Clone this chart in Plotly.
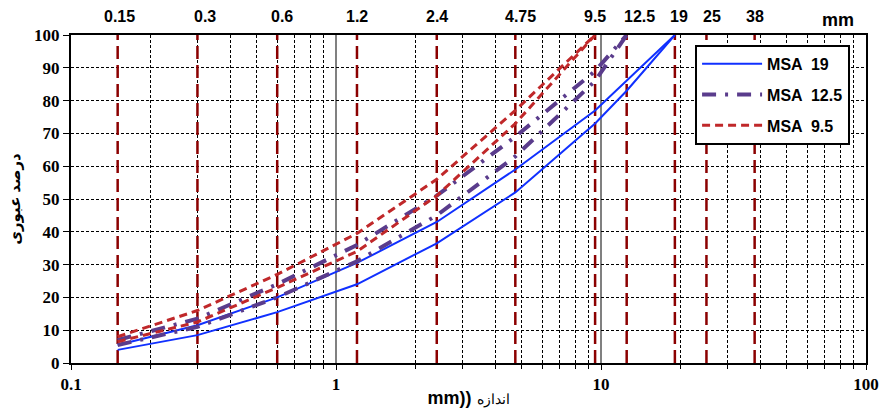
import math
import plotly.graph_objects as go

# ---------------- data ----------------
sieves = [0.15, 0.3, 0.6, 1.2, 2.4, 4.75, 9.5, 12.5, 19]

msa19_upper = [5.5, 11.5, 20, 30.5, 43, 59, 77, 86, 100]
msa19_lower = [4, 8.5, 15.5, 24, 36.5, 52, 73, 83, 100]

msa125_upper = [7, 13.5, 24, 36, 51, 69, 89, 100]
msa125_lower = [5.5, 11, 20, 31, 45, 63, 86, 100]

msa95_upper = [8, 16, 27, 39.5, 56, 77, 100]
msa95_lower = [6.5, 12.5, 23, 34, 51, 73, 100]

top_sieves = [0.15, 0.3, 0.6, 1.2, 2.4, 4.75, 9.5, 12.5, 19, 25, 38]
top_labels = ["0.15", "0.3", "0.6", "1.2", "2.4", "4.75", "9.5", "12.5", "19", "25", "38"]
top_label_shift = [2, 8, 5, 0, 0, 5, 0, 13, 4, 6, 0]

y_ticks = list(range(0, 101, 10))
x_ticks = [0.1, 1, 10, 100]
x_ticklabels = ["0.1", "1", "10", "100"]

series = [
    ("MSA  19", msa19_upper, msa19_lower, "#1030FF", "solid", 2),
    ("MSA  12.5", msa125_upper, msa125_lower, "#5A3C8C", "14px,9px,3px,9px", 4),
    ("MSA  9.5", msa95_upper, msa95_lower, "#C0282A", "8px,5px", 3),
]

fig = go.Figure()

# vertical sieve lines
vx, vy = [], []
for s in top_sieves:
    vx += [s, s, None]
    vy += [0, 100, None]
fig.add_trace(go.Scatter(
    x=vx, y=vy, mode="lines", showlegend=False, hoverinfo="skip",
    line=dict(color="#8B0000", width=2.5, dash="13px,6px"),
))

for name, up, lo, color, dash, width in series:
    n = len(up)
    fig.add_trace(go.Scatter(
        x=sieves[:n], y=up, mode="lines", name=name, legendgroup=name,
        line=dict(color=color, width=width, dash=dash),
    ))
    fig.add_trace(go.Scatter(
        x=sieves[:n], y=lo, mode="lines", name=name, legendgroup=name,
        showlegend=False,
        line=dict(color=color, width=width, dash=dash),
    ))

serif_bold = dict(family="Liberation Serif, Times New Roman, serif", size=17, color="black", weight="bold")
sans_bold = dict(family="Liberation Sans, Arial, sans-serif", size=16, color="black", weight="bold")

annotations = []
for s, lab, sh in zip(top_sieves, top_labels, top_label_shift):
    annotations.append(dict(
        x=math.log10(s), y=1, xref="x", yref="paper", text=lab, showarrow=False,
        xanchor="center", yanchor="middle", yshift=19, xshift=sh, font=sans_bold,
    ))
annotations.append(dict(
    x=0.965, y=1, xref="paper", yref="paper", text="mm", showarrow=False,
    xanchor="center", yanchor="middle", yshift=15,
    font=dict(family="Liberation Sans, Arial, sans-serif", size=18, color="black", weight="bold"),
))

fig.update_layout(
    width=885, height=408,
    margin=dict(l=71, r=19, t=35, b=45, autoexpand=False),
    paper_bgcolor="white", plot_bgcolor="white",
    showlegend=True,
    legend=dict(
        x=0.785, y=0.97, xanchor="left", yanchor="top",
        bgcolor="white", bordercolor="black", borderwidth=2,
        font=dict(family="Liberation Sans, Arial, sans-serif", size=16, color="black", weight="bold"),
        tracegroupgap=7, itemwidth=60,
    ),
    annotations=annotations,
    xaxis=dict(
        type="log", range=[-1, 2], automargin=False,
        tickvals=x_ticks, ticktext=x_ticklabels,
        tickfont=serif_bold,
        showline=True, linecolor="black", linewidth=2, mirror=True,
        ticks="outside", ticklen=5, tickcolor="black",
        showgrid=True, gridcolor="#808080", gridwidth=1.5,
        minor=dict(dtick="D1", showgrid=True, gridcolor="black", gridwidth=1,
                   griddash="3px,2px", ticks="outside", ticklen=4, tickcolor="black"),
        zeroline=False,
        title=dict(text="<b>mm))</b> <span style='font-size:14px'>اندازه</span>",
                   font=dict(family="Liberation Sans, Arial, sans-serif", size=18, color="black"),
                   standoff=4),
    ),
    yaxis=dict(
        range=[0, 100], tickvals=y_ticks, automargin=False,
        tickfont=serif_bold,
        showline=True, linecolor="black", linewidth=2, mirror=True,
        ticks="outside", ticklen=6, tickcolor="black",
        showgrid=True, gridcolor="black", gridwidth=1, griddash="3px,2px",
        zeroline=False,
        title=dict(text="درصد عبوری",
                   font=dict(family="Noto Sans, DejaVu Sans, sans-serif", size=15, color="black", weight="bold"),
                   standoff=10),
    ),
)

fig.write_html(
    "out.html",
    config={"displayModeBar": False},
    post_script="document.body.style.margin='0';document.body.style.overflow='hidden';",
)
